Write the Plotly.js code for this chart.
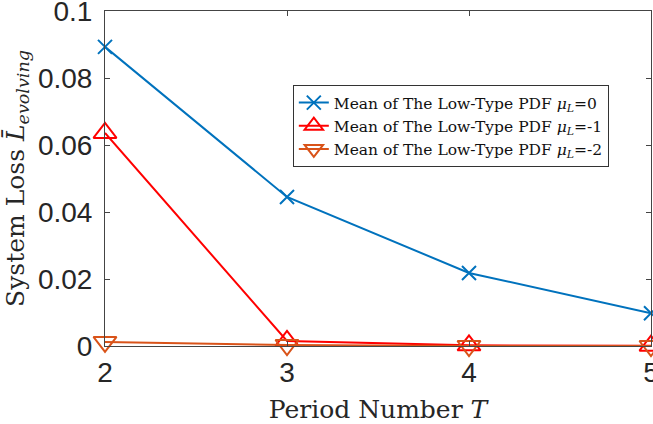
<!DOCTYPE html>
<html>
<head>
<meta charset="utf-8">
<script src="https://cdn.plot.ly/plotly-3.0.1.min.js"></script>
<style>html,body{margin:0;padding:0;background:#fff;overflow:hidden;}#chart{width:653px;height:424px;}</style>
</head>
<body>
<div id="chart"></div>
<script>
const periods = [2, 3, 4, 5];
const lossMu0 = [0.0893, 0.0445, 0.0218, 0.0098];
const lossMuM1 = [0.0636, 0.0015, 0.0002, 0.0001];
const lossMuM2 = [0.0012, 0.0003, 0.0000, 0.0000];
const seriesNames = [
  'Mean of The Low-Type PDF <i>μ</i><sub><i>L</i></sub>=0',
  'Mean of The Low-Type PDF <i>μ</i><sub><i>L</i></sub>=-1',
  'Mean of The Low-Type PDF <i>μ</i><sub><i>L</i></sub>=-2'
];
const yTickVals = [0, 0.02, 0.04, 0.06, 0.08, 0.1];
const yTickText = ['0', '0.02', '0.04', '0.06', '0.08', '0.1'];
const xTickVals = [2, 3, 4, 5];
const xTickText = ['2', '3', '4', '5'];

const traces = [
  {x: periods, y: lossMu0, name: seriesNames[0], mode: 'lines+markers', cliponaxis: false,
   line: {color: '#0072BD', width: 2},
   marker: {symbol: 'x-thin-open', size: 14, color: '#0072BD', line: {color: '#0072BD', width: 2}}},
  {x: periods, y: lossMuM1, name: seriesNames[1], mode: 'lines+markers', cliponaxis: false,
   line: {color: '#FF0000', width: 2},
   marker: {symbol: 'triangle-up-open', size: 20, color: '#FF0000', line: {color: '#FF0000', width: 2}}},
  {x: periods, y: lossMuM2, name: seriesNames[2], mode: 'lines+markers', cliponaxis: false,
   line: {color: '#D95319', width: 2},
   marker: {symbol: 'triangle-down-open', size: 20, color: '#D95319', line: {color: '#D95319', width: 2}}}
];

const layout = {
  width: 653, height: 424,
  margin: {l: 105, r: 2, t: 11, b: 78},
  paper_bgcolor: '#fff', plot_bgcolor: '#fff',
  showlegend: true,
  legend: {
    x: 0.344, y: 0.779, xanchor: 'left', yanchor: 'top',
    bgcolor: '#fff', bordercolor: '#333', borderwidth: 1,
    font: {family: 'DejaVu Serif, serif', size: 15.5, color: '#111'},
    tracegroupgap: 0, itemwidth: 30
  },
  xaxis: {
    range: [2, 5], tickvals: xTickVals, ticktext: xTickText,
    ticks: 'inside', ticklen: 5, tickcolor: '#444', tickwidth: 1,
    showline: true, linecolor: '#444', linewidth: 1, mirror: 'ticks',
    showgrid: false, zeroline: false,
    ticklabeloverflow: 'allow', ticklabelstandoff: 1,
    tickfont: {family: 'Liberation Sans, Arial, sans-serif', size: 28, color: '#262626'},
    title: {text: 'Period Number <i>T</i>', font: {family: 'DejaVu Serif, serif', size: 25, color: '#262626'}, standoff: 14}
  },
  yaxis: {
    range: [0, 0.1], tickvals: yTickVals, ticktext: yTickText,
    ticks: 'inside', ticklen: 5, tickcolor: '#444', tickwidth: 1,
    showline: true, linecolor: '#444', linewidth: 1, mirror: 'ticks',
    showgrid: false, zeroline: false,
    ticklabeloverflow: 'allow', ticklabelstandoff: 6,
    tickfont: {family: 'Liberation Sans, Arial, sans-serif', size: 28, color: '#262626'},
    title: {text: 'System Loss <i>L̄</i><sub><i>evolving</i></sub>', font: {family: 'DejaVu Serif, serif', size: 25, color: '#262626'}, standoff: 6}
  }
};

Plotly.newPlot('chart', traces, layout, {displayModeBar: false, staticPlot: true});
</script>
</body>
</html>
